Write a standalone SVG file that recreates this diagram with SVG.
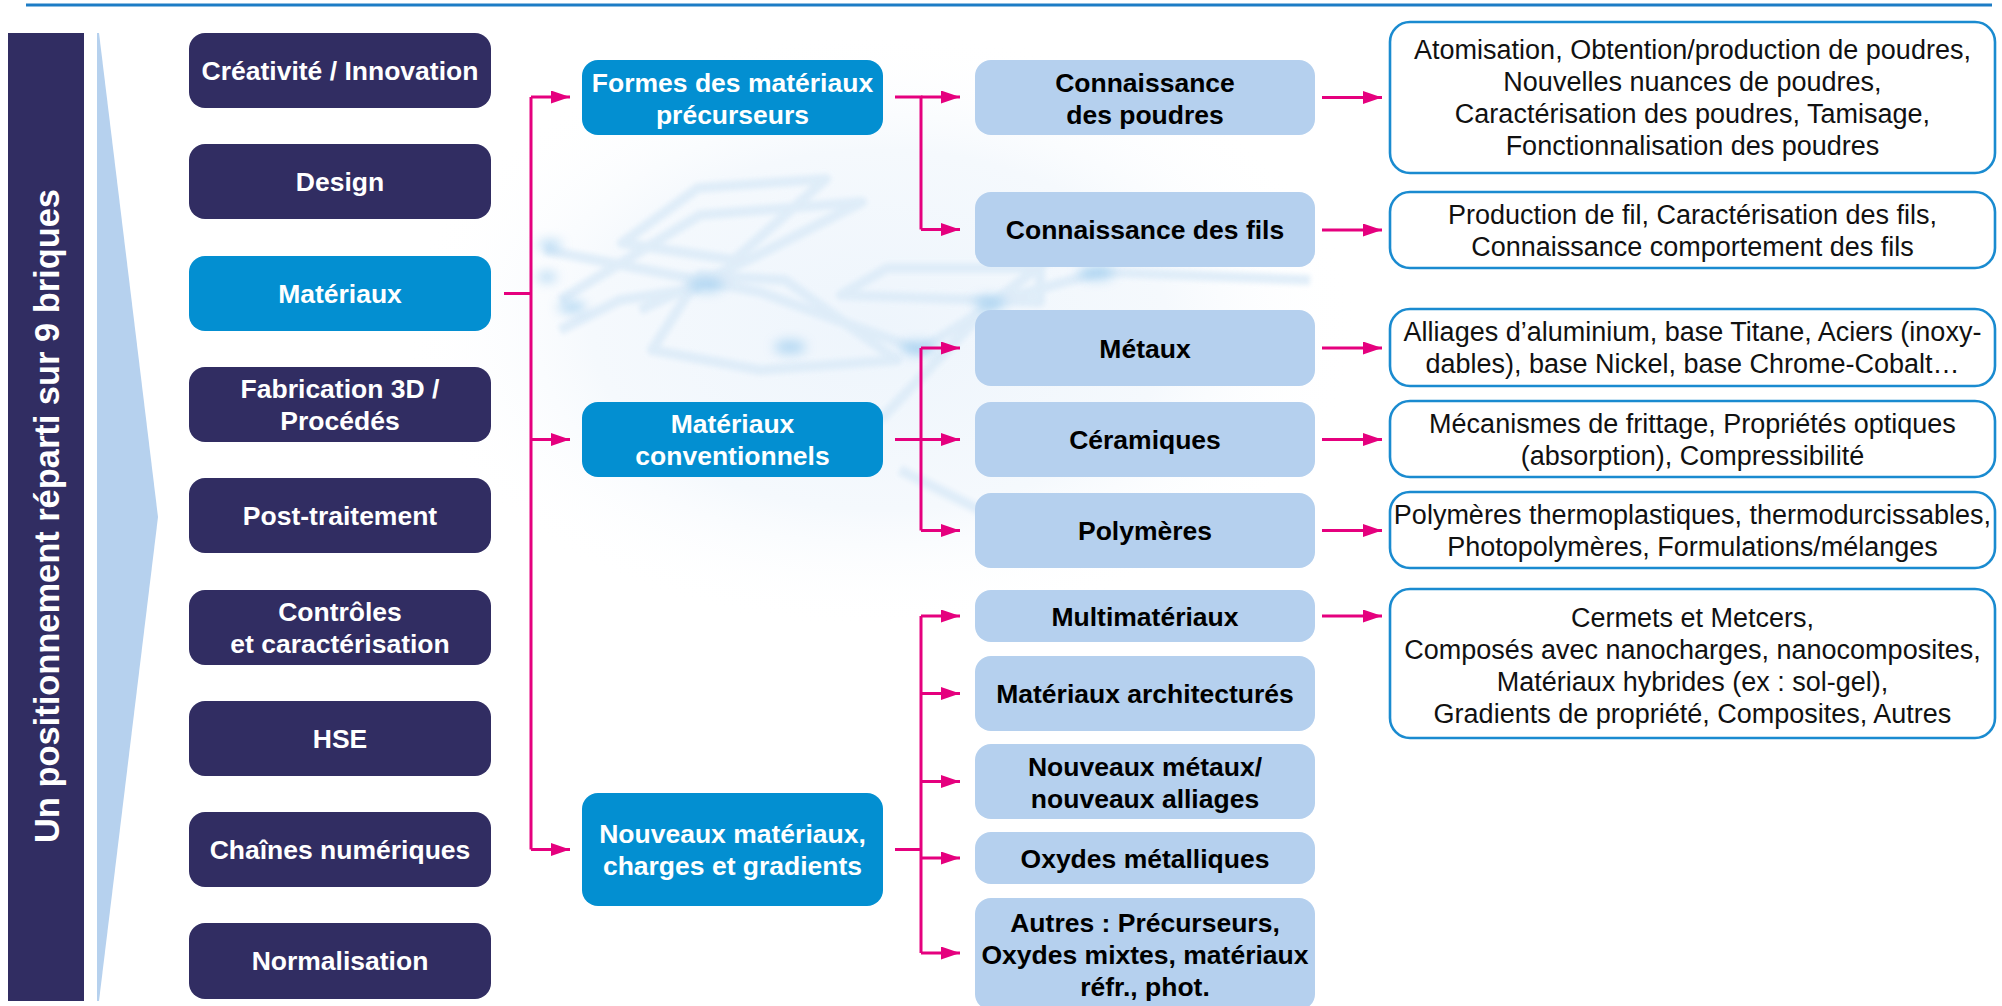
<svg xmlns="http://www.w3.org/2000/svg" width="2002" height="1006" viewBox="0 0 2002 1006">
<defs>
<style>
.lft rect{fill:#312d62}
.lft text,.mid text{fill:#fff;font-family:"Liberation Sans",Arial,Helvetica,sans-serif;font-weight:bold;font-size:26.5px;text-anchor:middle}
.mid rect{fill:#038fd1}
.sub rect{fill:#b5d0ee}
.sub text{fill:#000;font-family:"Liberation Sans",Arial,Helvetica,sans-serif;font-weight:bold;font-size:26.5px;text-anchor:middle}
.det rect{fill:#fff;stroke:#1a8bd0;stroke-width:2.6}
.det text{fill:#111;font-family:"Liberation Sans",Arial,Helvetica,sans-serif;font-size:27px;text-anchor:middle}
.con{fill:none;stroke:#e5007e;stroke-width:3}
.bgs{fill:none;stroke:#dcebf8;stroke-width:10;stroke-linejoin:round}
</style>
<marker id="ah" markerUnits="userSpaceOnUse" markerWidth="20" markerHeight="14" refX="19" refY="6.5" orient="auto">
<path d="M0,0 L19,6.5 L0,13 z" fill="#e5007e"/>
</marker>
<radialGradient id="wash" cx="0.5" cy="0.5" r="0.5">
<stop offset="0" stop-color="#eef5fc"/>
<stop offset="0.6" stop-color="#f5f9fd"/>
<stop offset="1" stop-color="#ffffff" stop-opacity="0"/>
</radialGradient>
<filter id="blur" x="-50%" y="-50%" width="200%" height="200%"><feGaussianBlur stdDeviation="6"/></filter>
<filter id="blur2" x="-20%" y="-20%" width="140%" height="140%"><feGaussianBlur stdDeviation="2.5"/></filter>
</defs>
<rect width="2002" height="1006" fill="#fff"/>
<!-- background decoration -->
<g id="background">
<ellipse cx="880" cy="330" rx="480" ry="300" fill="url(#wash)"/>
<g filter="url(#blur2)" opacity="0.85">
<path class="bgs" d="M622,243 L698,188 L826,179 L734,260 Z"/>
<path class="bgs" d="M560,300 L700,215 L862,202 L754,257 L640,310"/>
<path class="bgs" d="M652,350 L760,370 L897,360 L785,280 L700,275 Z"/>
<path class="bgs" d="M841,295 L887,268 L1040,268 L1040,302 Z"/>
<path class="bgs" d="M545,250 L760,292 L920,350 L1000,300 L1100,272 L1310,280"/>
<path class="bgs" d="M880,420 L990,305 L1060,250"/>
<path class="bgs" d="M560,330 L620,300 L700,288"/>
<path class="bgs" d="M900,470 L1000,520 L1080,560"/>
</g>
<g fill="#9acbef" filter="url(#blur)" opacity="0.7">
<ellipse cx="706" cy="285" rx="18" ry="7"/>
<ellipse cx="790" cy="347" rx="16" ry="7"/>
<ellipse cx="918" cy="348" rx="18" ry="7"/>
<ellipse cx="990" cy="303" rx="16" ry="7"/>
<ellipse cx="1096" cy="273" rx="18" ry="7"/>
<ellipse cx="550" cy="245" rx="12" ry="5"/>
<ellipse cx="572" cy="307" rx="14" ry="6"/>
<ellipse cx="547" cy="277" rx="10" ry="5"/>
</g>
</g>
<!-- top line -->
<line x1="26" y1="5" x2="1992" y2="5" stroke="#1c7cc5" stroke-width="3"/>
<!-- side bar -->
<g id="sidebar">
<rect x="8" y="33" width="76" height="968" fill="#312d62"/>
<text transform="translate(59,516) rotate(-90)" text-anchor="middle" font-family="'Liberation Sans',Arial,Helvetica,sans-serif" font-weight="bold" font-size="35" fill="#fff" textLength="654" lengthAdjust="spacingAndGlyphs">Un positionnement réparti sur 9 briques</text>
</g>
<polygon id="chevron" points="97,33 99,33 158,517 99,1001 97,1001" fill="#b6d1ee"/>
<!-- connectors -->
<g id="connectors">
<path class="con" d="M504,293.5 H531 M531,97 V849.5"/>
<path class="con" marker-end="url(#ah)" d="M531,97 H570"/>
<path class="con" marker-end="url(#ah)" d="M531,439.5 H570"/>
<path class="con" marker-end="url(#ah)" d="M531,849.5 H570"/>
<path class="con" d="M895,97 H921 V229.5"/>
<path class="con" marker-end="url(#ah)" d="M921,97 H960"/>
<path class="con" marker-end="url(#ah)" d="M921,229.5 H960"/>
<path class="con" d="M895,439.5 H921 M921,348 V530.5"/>
<path class="con" marker-end="url(#ah)" d="M921,348 H960"/>
<path class="con" marker-end="url(#ah)" d="M921,439.5 H960"/>
<path class="con" marker-end="url(#ah)" d="M921,530.5 H960"/>
<path class="con" d="M895,849.5 H921 M921,616 V953"/>
<path class="con" marker-end="url(#ah)" d="M921,616 H960"/>
<path class="con" marker-end="url(#ah)" d="M921,693.5 H960"/>
<path class="con" marker-end="url(#ah)" d="M921,781.5 H960"/>
<path class="con" marker-end="url(#ah)" d="M921,858 H960"/>
<path class="con" marker-end="url(#ah)" d="M921,953 H960"/>
<path class="con" marker-end="url(#ah)" d="M1322,97.5 H1382"/>
<path class="con" marker-end="url(#ah)" d="M1322,230 H1382"/>
<path class="con" marker-end="url(#ah)" d="M1322,348 H1382"/>
<path class="con" marker-end="url(#ah)" d="M1322,439.5 H1382"/>
<path class="con" marker-end="url(#ah)" d="M1322,530.5 H1382"/>
<path class="con" marker-end="url(#ah)" d="M1322,616 H1382"/>
</g>
<!-- left column -->
<g id="n-creativite" class="lft"><rect x="189" y="33" width="302" height="75" rx="16"/><text x="340" y="80">Créativité / Innovation</text></g>
<g id="n-design" class="lft"><rect x="189" y="144" width="302" height="75" rx="16"/><text x="340" y="191">Design</text></g>
<g id="n-materiaux" class="mid"><rect x="189" y="256" width="302" height="75" rx="16"/><text x="340" y="303">Matériaux</text></g>
<g id="n-fabrication" class="lft"><rect x="189" y="367" width="302" height="75" rx="16"/><text x="340" y="398">Fabrication 3D /</text><text x="340" y="430">Procédés</text></g>
<g id="n-post" class="lft"><rect x="189" y="478" width="302" height="75" rx="16"/><text x="340" y="525">Post-traitement</text></g>
<g id="n-controles" class="lft"><rect x="189" y="590" width="302" height="75" rx="16"/><text x="340" y="621">Contrôles</text><text x="340" y="653">et caractérisation</text></g>
<g id="n-hse" class="lft"><rect x="189" y="701" width="302" height="75" rx="16"/><text x="340" y="748">HSE</text></g>
<g id="n-chaines" class="lft"><rect x="189" y="812" width="302" height="75" rx="16"/><text x="340" y="859">Chaînes numériques</text></g>
<g id="n-normalisation" class="lft"><rect x="189" y="923" width="302" height="76" rx="16"/><text x="340" y="970">Normalisation</text></g>
<!-- middle column -->
<g id="n-formes" class="mid"><rect x="582" y="60" width="301" height="75" rx="16"/><text x="732.5" y="91.5">Formes des matériaux</text><text x="732.5" y="123.5">précurseurs</text></g>
<g id="n-conventionnels" class="mid"><rect x="582" y="402" width="301" height="75" rx="16"/><text x="732.5" y="433">Matériaux</text><text x="732.5" y="465">conventionnels</text></g>
<g id="n-nouveaux" class="mid"><rect x="582" y="793" width="301" height="113" rx="16"/><text x="732.5" y="843">Nouveaux matériaux,</text><text x="732.5" y="875">charges et gradients</text></g>
<!-- third column -->
<g id="n-poudres" class="sub"><rect x="975" y="60" width="340" height="75" rx="16"/><text x="1145" y="91.5">Connaissance</text><text x="1145" y="123.5">des poudres</text></g>
<g id="n-fils" class="sub"><rect x="975" y="192" width="340" height="75" rx="16"/><text x="1145" y="239">Connaissance des fils</text></g>
<g id="n-metaux" class="sub"><rect x="975" y="310" width="340" height="76" rx="16"/><text x="1145" y="357.5">Métaux</text></g>
<g id="n-ceramiques" class="sub"><rect x="975" y="402" width="340" height="75" rx="16"/><text x="1145" y="449">Céramiques</text></g>
<g id="n-polymeres" class="sub"><rect x="975" y="493" width="340" height="75" rx="16"/><text x="1145" y="540">Polymères</text></g>
<g id="n-multi" class="sub"><rect x="975" y="590" width="340" height="52" rx="16"/><text x="1145" y="625.5">Multimatériaux</text></g>
<g id="n-archi" class="sub"><rect x="975" y="656" width="340" height="75" rx="16"/><text x="1145" y="703">Matériaux architecturés</text></g>
<g id="n-nouveauxmetaux" class="sub"><rect x="975" y="744" width="340" height="75" rx="16"/><text x="1145" y="775.5">Nouveaux métaux/</text><text x="1145" y="807.5">nouveaux alliages</text></g>
<g id="n-oxydes" class="sub"><rect x="975" y="832" width="340" height="52" rx="16"/><text x="1145" y="867.5">Oxydes métalliques</text></g>
<g id="n-autres" class="sub"><rect x="975" y="898" width="340" height="112" rx="16"/><text x="1145" y="932">Autres : Précurseurs,</text><text x="1145" y="964">Oxydes mixtes, matériaux</text><text x="1145" y="996">réfr., phot.</text></g>
<!-- detail boxes -->
<g id="d-poudres" class="det"><rect x="1390" y="22" width="605" height="151" rx="20"/><text x="1692.5" y="59">Atomisation, Obtention/production de poudres,</text><text x="1692.5" y="91">Nouvelles nuances de poudres,</text><text x="1692.5" y="123">Caractérisation des poudres, Tamisage,</text><text x="1692.5" y="155">Fonctionnalisation des poudres</text></g>
<g id="d-fils" class="det"><rect x="1390" y="192" width="605" height="76" rx="20"/><text x="1692.5" y="223.5">Production de fil, Caractérisation des fils,</text><text x="1692.5" y="255.5">Connaissance comportement des fils</text></g>
<g id="d-metaux" class="det"><rect x="1390" y="309" width="605" height="77" rx="20"/><text x="1692.5" y="341">Alliages d’aluminium, base Titane, Aciers (inoxy-</text><text x="1692.5" y="373">dables), base Nickel, base Chrome-Cobalt…</text></g>
<g id="d-ceramiques" class="det"><rect x="1390" y="401" width="605" height="76" rx="20"/><text x="1692.5" y="433">Mécanismes de frittage, Propriétés optiques</text><text x="1692.5" y="465">(absorption), Compressibilité</text></g>
<g id="d-polymeres" class="det"><rect x="1390" y="492" width="605" height="76" rx="20"/><text x="1692.5" y="524">Polymères thermoplastiques, thermodurcissables,</text><text x="1692.5" y="556">Photopolymères, Formulations/mélanges</text></g>
<g id="d-multi" class="det"><rect x="1390" y="589" width="605" height="149" rx="20"/><text x="1692.5" y="627">Cermets et Metcers,</text><text x="1692.5" y="659">Composés avec nanocharges, nanocomposites,</text><text x="1692.5" y="691">Matériaux hybrides (ex : sol-gel),</text><text x="1692.5" y="723">Gradients de propriété, Composites, Autres</text></g>
</svg>
